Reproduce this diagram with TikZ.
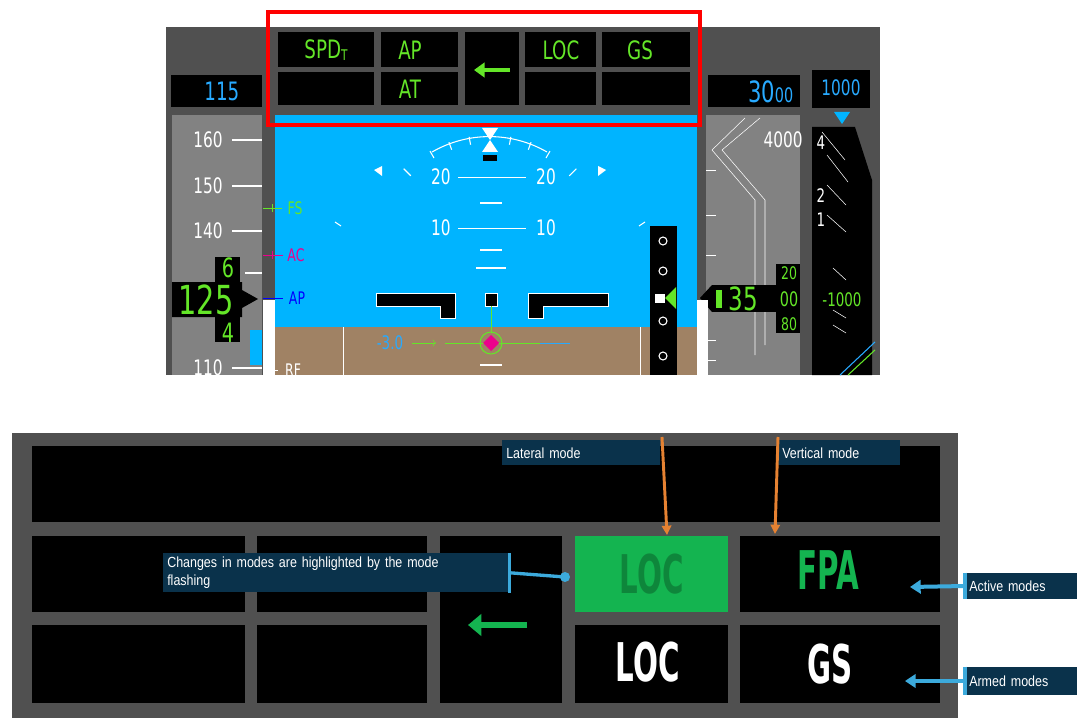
\documentclass[tikz,border=0pt]{standalone}
\usepackage{fontspec}
\setmainfont{Liberation Sans}
\newfontfamily\fma[FakeStretch=0.72]{DejaVu Sans}
\newfontfamily\fmb[FakeStretch=0.55]{DejaVu Sans}
\newfontfamily\lbl[FakeStretch=0.85]{Liberation Sans}
\usetikzlibrary{arrows.meta}
\definecolor{fmagreen}{RGB}{100,230,40}
\definecolor{cyanr}{RGB}{40,170,255}
\definecolor{skyb}{RGB}{0,180,255}
\definecolor{ground}{RGB}{160,130,100}
\definecolor{panel}{RGB}{80,80,80}
\definecolor{tape}{RGB}{130,130,130}
\definecolor{navy}{RGB}{10,50,75}
\definecolor{orangea}{RGB}{230,130,50}
\definecolor{lblue}{RGB}{60,170,220}
\definecolor{bgreen}{RGB}{20,180,80}
\tikzset{
 fmatxt/.style={text=fmagreen,font=\fma\fontsize{19}{19}\selectfont,inner sep=0},
 bigtxt/.style={font=\fmb\bfseries\fontsize{40}{40}\selectfont,inner sep=0},
 callout/.style={fill=navy,text=white,font=\lbl\fontsize{11}{13}\selectfont,inner sep=3pt,align=left},
 oarrow/.style={draw=orangea,line width=2.2pt,-{Triangle[length=7pt,width=7pt]}},
 barrow/.style={draw=lblue,line width=3pt,-{Triangle[length=8pt,width=10pt]}},
 wtxt/.style={text=white,font=\fma\fontsize{16}{16}\selectfont,inner sep=0}
}
\begin{document}
\begin{tikzpicture}[x=0.75pt,y=-0.75pt]
\useasboundingbox (0,0) rectangle (1090,724);
\fill[white] (0,0) rectangle (1090,724);
% ===== PFD =====
\fill[panel] (166,27) rectangle (880,375);
\fill[tape] (172,115) rectangle (262,375);
\fill[tape] (706,115) rectangle (800,375);
\fill[skyb] (275,115) rectangle (697,327);
\fill[ground] (275,327) rectangle (697,375);
\draw[white,thin] (343,327)--(343,375) (640,327)--(640,375);
% FMA cells
\foreach \a/\b/\c/\d in {278/32/374/67,381/32/458/67,465/32/519/105,525/32/596/67,602/32/690/67,278/72/374/105,381/72/458/105,525/72/596/105,602/72/690/105}
  \fill[black] (\a,\b) rectangle (\c,\d);
\node[fmatxt] (spd) at (326,50) {SPD\raisebox{-1pt}{\fontsize{11}{11}\selectfont T}};
\node[fmatxt] (ap) at (410,50) {AP};
\node[fmatxt] (at) at (410,89) {AT};
\node[fmatxt] (loc1) at (561,50) {LOC};
\node[fmatxt] (gs1) at (640,50) {GS};
\draw[fmagreen,line width=3pt,-{Triangle[length=8pt,width=11pt]}] (510,70)--(474,70);
% targets
\fill[black] (171,75) rectangle (262,107);
\node[text=cyanr,font=\fma\fontsize{19}{19}\selectfont,anchor=east] (spdt) at (244,91) {115};
\fill[black] (708,75) rectangle (800,107);
\node[text=cyanr,font=\fma\fontsize{22}{22}\selectfont,anchor=east] (altt) at (798,92) {30\fontsize{15}{15}\selectfont 00};
\fill[black] (812,70) rectangle (870,108);
\node[text=cyanr,font=\fma\fontsize{16}{16}\selectfont] (vst) at (841,88) {1000};
\fill[skyb] (834,112)--(850,112)--(842,124)--cycle;
\draw[red,line width=3.5pt] (268,12) rectangle (700,125);
% speed tape
\foreach \v/\y in {160/140,150/186,140/231,110/368}{
 \node[wtxt,anchor=east] at (223,\y) {\v};
 \draw[white,thick] (232,\y)--(262,\y);}
\draw[white,thick] (245,273)--(262,273);
\fill[white] (263,300) rectangle (275,375);
\fill[skyb] (250,330) rectangle (262,365);
\node[text=fmagreen,font=\fma\fontsize{13}{13}\selectfont] (fs) at (295,208) {FS};
\draw[fmagreen] (263,208)--(282,208) (272,204)--(272,212);
\node[text=magenta,font=\fma\fontsize{13}{13}\selectfont] (ac) at (296,255) {AC};
\draw[magenta] (263,255)--(283,255) (272,251)--(272,259);
\node[text=blue,font=\fma\fontsize{13}{13}\selectfont] (apb) at (297,298) {AP};
\draw[blue] (263,298)--(283,298);
\node[wtxt,font=\fma\fontsize{13}{13}\selectfont] at (293,370) {RF};
\draw[white] (263,370)--(278,370);
\fill[black] (215,257) rectangle (240,342);
\fill[black] (172,282)--(242,282)--(242,290)--(258,299)--(242,308)--(242,317)--(172,317)--cycle;
\node[text=fmagreen,font=\fma\fontsize{30}{30}\selectfont] (spdr) at (206,300) {125};
\node[text=fmagreen,font=\fma\fontsize{20}{20}\selectfont] at (228,268) {6};
\node[text=fmagreen,font=\fma\fontsize{20}{20}\selectfont] at (228,333) {4};
% attitude
\draw[white,thick] (432,152) arc (240:300:115);
\foreach \ang in {-30,-20,-10,10,20,30}
  \draw[white,thick] ([shift={(270+\ang:112)}]490,255)--([shift={(270+\ang:120)}]490,255);
\foreach \ang in {-45,45}
  \draw[white,thick] ([shift={(270+\ang:112)}]490,255)--([shift={(270+\ang:122)}]490,255);
\fill[white] (482,128)--(498,128)--(490,140)--cycle;
\fill[white] (490,140)--(482,152)--(498,152)--cycle;
\fill[black] (483,155) rectangle (497,161);
\fill[white] (374,170)--(382,166)--(382,176)--cycle;
\fill[white] (606,170)--(598,166)--(598,176)--cycle;
\draw[white,thick] (335,222)--(341,226) (645,222)--(639,226);
\node[wtxt] at (441,177) {20}; \node[wtxt] at (546,177) {20};
\draw[white] (458,177)--(526,177);
\node[wtxt] at (441,228) {10}; \node[wtxt] at (546,228) {10};
\draw[white] (458,228)--(526,228);
\draw[white,thick] (480,203)--(502,203) (480,250)--(502,250) (476,268)--(506,268) (480,365)--(502,365);
\fill[black,draw=white] (376,293)--(455,293)--(455,318)--(440,318)--(440,306)--(376,306)--cycle;
\fill[black,draw=white] (528,293)--(608,293)--(608,306)--(543,306)--(543,318)--(528,318)--cycle;
\fill[black,draw=white] (485,293) rectangle (497,306);
\draw[fmagreen] (491,306)--(491,333);
\draw[fmagreen] (445,343)--(540,343);
\draw[cyanr] (540,343)--(570,343);
\draw[fmagreen,thick] (491,343) circle (11);
\fill[magenta] (491,335)--(499,343)--(491,351)--(483,343)--cycle;
\node[text=cyanr,font=\fma\fontsize{14}{14}\selectfont] (fpv) at (390,343) {-3.0};
\draw[fmagreen,->] (412,343)--(436,343);
% glideslope scale
\fill[black] (650,226) rectangle (677,375);
\foreach \y in {241,271,321,356} \draw[white,thick] (663,\y) circle (4);
\fill[white] (655,294) rectangle (665,303);
\fill[fmagreen] (665,298)--(676,287)--(676,309)--cycle;
% altitude tape
\draw[white] (712,150)--(745,118) (722,150)--(760,118) (712,150)--(755,200)--(755,355) (722,150)--(765,200)--(765,345);
\foreach \y in {170,215,255,340,360} \draw[white] (706,\y)--(716,\y);
\node[wtxt,anchor=east] at (803,140) {4000};
\fill[black] (712,285) rectangle (800,312);
\fill[black] (776,264) rectangle (800,333);
\fill[black] (712,285)--(700,298)--(712,312)--cycle;
\node[text=fmagreen,font=\fma\fontsize{24}{24}\selectfont,anchor=west] (altr) at (724,299) {35};
\node[text=fmagreen,font=\fma\fontsize{15}{15}\selectfont] at (789,299) {00};
\node[text=fmagreen,font=\fma\fontsize{13}{13}\selectfont] at (789,273) {20};
\node[text=fmagreen,font=\fma\fontsize{13}{13}\selectfont] at (789,324) {80};
\fill[fmagreen] (716,290) rectangle (722,308);
\fill[white] (697,300) rectangle (708,375);
% VS scale
\fill[black] (812,127)--(855,127)--(872,180)--(872,375)--(812,375)--cycle;
\node[wtxt,font=\fma\fontsize{14}{14}\selectfont] at (821,143) {4};
\node[wtxt,font=\fma\fontsize{14}{14}\selectfont] at (821,196) {2};
\node[wtxt,font=\fma\fontsize{14}{14}\selectfont] at (821,220) {1};
\draw[white] (822,132)--(845,160) (827,155)--(848,182) (827,185)--(846,205) (827,215)--(846,232);
\draw[white] (833,268)--(846,280) (833,310)--(846,318) (833,325)--(846,333);
\node[text=fmagreen,font=\fma\fontsize{14}{14}\selectfont] (vsr) at (842,300) {-1000};
\draw[cyanr,thick] (840,375)--(875,342);
\draw[fmagreen,thick] (848,375)--(875,350);
% ===== Bottom panel =====
\fill[panel] (12,433) rectangle (958,718);
\fill[black] (32,446) rectangle (940,522);
\foreach \a/\b/\c/\d in {32/536/245/612,257/536/427/612,32/625/245/703,257/625/427/703,440/536/562/703,740/536/940/612,575/625/728/703,740/625/940/703}
  \fill[black] (\a,\b) rectangle (\c,\d);
\fill[bgreen] (575,536) rectangle (728,612);
\node[bigtxt,text=black,opacity=0.25] (locf) at (652,574) {LOC};
\node[bigtxt,text=bgreen] (fpa) at (828,570) {FPA};
\node[bigtxt,text=white] (loc2) at (648,662) {LOC};
\node[bigtxt,text=white] (gs2) at (830,664) {GS};
\draw[bgreen,line width=5pt,-{Triangle[length=10pt,width=16pt]}] (527,625)--(468,625);
\node[callout,minimum height=25*0.75pt,anchor=north west,text width=150*0.75pt] (lat) at (502,440) {Lateral mode};
\node[callout,minimum height=25*0.75pt,anchor=north west,text width=114*0.75pt] (ver) at (778,440) {Vertical mode};
\coordinate (latend) at (667,535);
\coordinate (verend) at (775,534);
\draw[oarrow] (662,437)--(latend);
\draw[oarrow] (778,437)--(verend);
\node[callout,anchor=north west,text width=338*0.75pt] (chg) at (163,553) {Changes in modes are highlighted by the mode\\flashing};
\draw[lblue,line width=2.5pt] (chg.north east)--(chg.south east);
\coordinate (dot) at (565,577);
\draw[lblue,line width=2.5pt] (chg.east)--(dot);
\fill[lblue] (dot) circle (5);
\node[callout,anchor=west,minimum height=26*0.75pt,text width=104*0.75pt] (act) at (965,586) {Active modes};
\node[callout,anchor=west,minimum height=28*0.75pt,text width=104*0.75pt] (arm) at (965,681) {Armed modes};
\draw[lblue,line width=2.5pt] (act.north west)--(act.south west);
\draw[lblue,line width=2.5pt] (arm.north west)--(arm.south west);
\draw[barrow] (act.west)--(910,587);
\draw[barrow] (arm.west)--(905,681);
\end{tikzpicture}
\end{document}
